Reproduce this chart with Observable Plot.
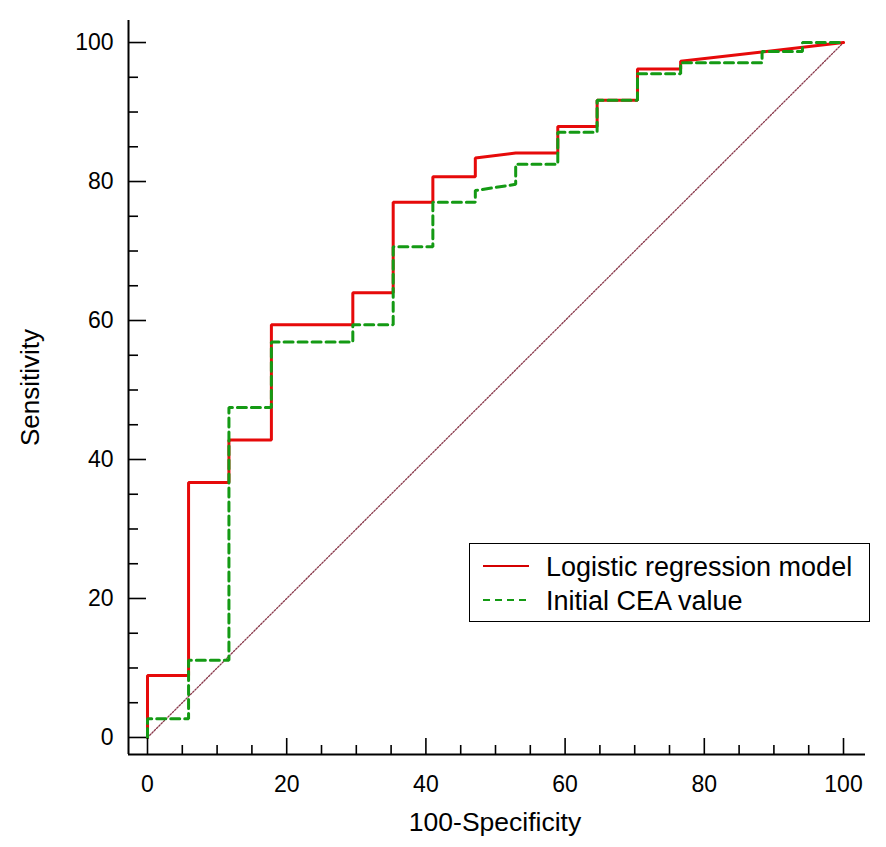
<!DOCTYPE html>
<html>
<head>
<meta charset="utf-8">
<script src="https://cdn.jsdelivr.net/npm/d3@7"></script>
<script src="https://cdn.jsdelivr.net/npm/@observablehq/plot@0.6"></script>
<style>
  body { margin: 0; background: #fff; font-family: Arial, "Liberation Sans", sans-serif; }
  #wrap { position: relative; width: 886px; height: 847px; }
  .legend { position: absolute; left: 469px; top: 543px; width: 401px; height: 79px;
            border: 1.5px solid #000; background: #fff; box-sizing: border-box; }
  .legend svg { position: absolute; left: 0; top: 0; overflow: visible; }
</style>
</head>
<body>
<div id="wrap"></div>
<script>
// ---- data ----
const fprLogit  = [0, 0, 5.9, 5.9, 11.7, 11.7, 17.8, 17.8, 29.5, 29.5, 35.3, 35.3, 41.0, 41.0, 47.1, 47.1, 52.9, 58.95, 58.95, 64.6, 64.6, 70.4, 70.4, 76.6, 76.6, 100];
const sensLogit = [0, 8.9, 8.9, 36.7, 36.7, 42.8, 42.8, 59.4, 59.4, 64.0, 64.0, 77.0, 77.0, 80.7, 80.7, 83.4, 84.1, 84.1, 87.9, 87.9, 91.7, 91.7, 96.2, 96.2, 97.3, 100];

const fprCea  = [0, 0, 5.9, 5.9, 11.7, 11.7, 17.8, 17.8, 29.5, 29.5, 35.3, 35.3, 41.0, 41.0, 47.1, 47.1, 52.9, 52.9, 58.95, 58.95, 64.6, 64.6, 70.4, 70.4, 76.6, 76.6, 88.3, 88.3, 94.1, 94.1, 100];
const sensCea = [0, 2.7, 2.7, 11.1, 11.1, 47.5, 47.5, 56.9, 56.9, 59.4, 59.4, 70.6, 70.6, 77.0, 77.0, 78.7, 79.6, 82.5, 82.5, 87.1, 87.1, 91.7, 91.7, 95.5, 95.5, 97.1, 97.1, 98.7, 98.7, 100, 100];

const diagX = [0, 100];
const diagY = [0, 100];

const xMajor = [0, 20, 40, 60, 80, 100];
const yMajor = [0, 20, 40, 60, 80, 100];
const xMinor = [5, 10, 15, 25, 30, 35, 45, 50, 55, 65, 70, 75, 85, 90, 95];
const yMinor = [5, 10, 15, 25, 30, 35, 45, 50, 55, 65, 70, 75, 85, 90, 95];

const seriesNames = ["Logistic regression model", "Initial CEA value"];
const xTitle = "100-Specificity";
const yTitle = "Sensitivity";

// ---- build ----
const logit = fprLogit.map((x, i) => ({x, y: sensLogit[i]}));
const cea = fprCea.map((x, i) => ({x, y: sensCea[i]}));
const diag = diagX.map((x, i) => ({x, y: diagY[i]}));

const xmin = -2.73, xmax = 103.16, ymin = -2.45, ymax = 103.17;
const mL = 128, mR = 21, mT = 20, mB = 93, W = 886, H = 847;
const pxX = (W - mL - mR) / (xmax - xmin);
const pxY = (H - mT - mB) / (ymax - ymin);

const chart = Plot.plot({
  width: W, height: H,
  marginLeft: mL, marginRight: mR, marginTop: mT, marginBottom: mB,
  style: { background: "#fff", fontFamily: "Arial, 'Liberation Sans', sans-serif", color: "#000", overflow: "visible" },
  x: { domain: [xmin, xmax] },
  y: { domain: [ymin, ymax] },
  marks: [
    Plot.line(diag, {x: "x", y: "y", stroke: "#8a3a4c", strokeWidth: 1.3, strokeDasharray: "1.6,1.6"}),
    Plot.line(logit, {x: "x", y: "y", stroke: "#e60a0a", strokeWidth: 3, strokeLinejoin: "miter", curve: "linear"}),
    Plot.line(cea, {x: "x", y: "y", stroke: "#149a14", strokeWidth: 3, strokeDasharray: "9,5", strokeLinejoin: "miter", curve: "linear"}),
    // axis lines
    Plot.ruleX([xmin], {y1: ymin, y2: ymax, stroke: "#000", strokeWidth: 2}),
    Plot.ruleY([ymin], {x1: xmin, x2: xmax, stroke: "#000", strokeWidth: 2}),
    // inward ticks
    Plot.ruleX(xMajor, {x: d => d, y1: ymin, y2: ymin + 16 / pxY, stroke: "#000", strokeWidth: 1.6}),
    Plot.ruleX(xMinor, {x: d => d, y1: ymin, y2: ymin + 9 / pxY, stroke: "#000", strokeWidth: 1.6}),
    Plot.ruleY(yMajor, {y: d => d, x1: xmin, x2: xmin + 18 / pxX, stroke: "#000", strokeWidth: 1.6}),
    Plot.ruleY(yMinor, {y: d => d, x1: xmin, x2: xmin + 10 / pxX, stroke: "#000", strokeWidth: 1.6}),
    // tick labels
    Plot.axisX({ticks: xMajor, tickSize: 0, tickPadding: 21, fontSize: 23, label: null, fill: "#000"}),
    Plot.axisY({ticks: yMajor, tickSize: 0, tickPadding: 15, fontSize: 23, label: null, fill: "#000"}),
    // titles
    Plot.text([xTitle], {x: () => (xmin + xmax) / 2 - 2 / pxX, y: () => ymin, dy: 76, lineAnchor: "bottom", text: d => d, fontSize: 26.5, fill: "#000"}),
    Plot.text([yTitle], {x: () => xmin - 98 / pxX, y: () => (ymin + ymax) / 2, rotate: -90, text: d => d, fontSize: 26, fill: "#000"})
  ]
});
document.getElementById("wrap").appendChild(chart);

// legend
const leg = document.createElement("div");
leg.className = "legend";
const lsvg = d3.create("svg").attr("width", 401).attr("height", 79);
const colors = ["#d40000", "#149a14"];
const dashes = [null, "7,5"];
seriesNames.forEach((name, i) => {
  const cy = 22 + i * 34;
  lsvg.append("line").attr("x1", 13).attr("x2", 59).attr("y1", cy).attr("y2", cy)
    .attr("stroke", colors[i]).attr("stroke-width", 1.8).attr("stroke-dasharray", dashes[i]);
  lsvg.append("text").attr("x", 76).attr("y", cy + 10).attr("font-size", 27)
    .attr("font-family", "Arial, 'Liberation Sans', sans-serif").attr("fill", "#000").text(name);
});
leg.appendChild(lsvg.node());
document.getElementById("wrap").appendChild(leg);
</script>
</body>
</html>
